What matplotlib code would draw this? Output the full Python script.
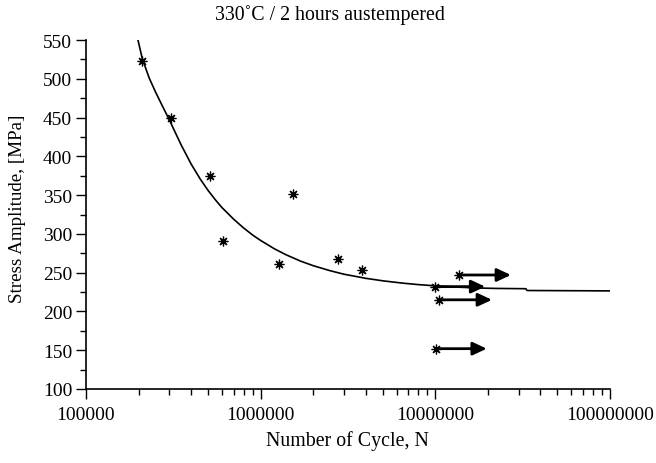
import matplotlib
matplotlib.use('Agg')
import matplotlib.pyplot as plt
from matplotlib.ticker import FixedLocator, MultipleLocator, FuncFormatter, NullFormatter

# ---- data ----
cycles = [2.1e5, 3.05e5, 5.12e5, 6.05e5, 1.28e6, 1.53e6, 2.77e6, 3.78e6,
          1.0e7, 1.374e7, 1.055e7, 1.005e7]
stress = [523, 449, 374, 291, 261, 351, 268, 253, 232, 247, 215, 152]

runout_cycles = [1.0e7, 1.374e7, 1.055e7, 1.005e7]
runout_stress = [232, 247, 215, 152]
runout_end = [1.93e7, 2.71e7, 2.11e7, 1.97e7]

# fitted S-N curve
curve_cycles = [1.97e5, 2.1e5, 2.3e5, 2.5e5, 2.75e5, 3.0e5, 3.5e5, 4.0e5,
                4.5e5, 5.0e5, 5.5e5, 6.0e5, 7.0e5, 8.0e5, 9.0e5, 1.0e6,
                1.2e6, 1.4e6, 1.7e6, 2.0e6, 2.5e6, 3.0e6, 4.0e6, 5.0e6,
                6.5e6, 8.0e6, 1.0e7, 1.3e7, 1.7e7, 2.2e7, 3.3e7, 3.35e7, 1.0e8]
curve_stress = [553, 526, 501, 483, 464, 447, 415, 390,
                371, 356, 344, 334, 319, 307.5, 298.5, 291.5,
                280.7, 273, 264.7, 259, 252.5, 248, 242.7, 239.5,
                236.5, 234.6, 233, 231.5, 230.3, 229.7, 229.3, 227, 226.5]

x_major = [1e5, 1e6, 1e7, 1e8]
y_major = [100, 150, 200, 250, 300, 350, 400, 450, 500, 550]

title = "330˚C / 2 hours austempered"
xlabel = "Number of Cycle, N"
ylabel = "Stress Amplitude, [MPa]"

plt.rcParams['font.family'] = ['Liberation Serif', 'DejaVu Serif']

W, H = 656, 464
fig = plt.figure(figsize=(W / 100, H / 100), dpi=100)
L, R, T, B = 86, 610, 41, 390
ax = fig.add_axes([L / W, 1 - B / H, (R - L) / W, (B - T) / H])

ax.set_xscale('log')
ax.set_xlim(1e5, 1e8)
ax.set_ylim(100, 550)

ax.plot(curve_cycles, curve_stress, color='black', lw=1.2, zorder=2,
        solid_joinstyle='round')
ax.plot(cycles, stress, linestyle='none', marker=(8, 2, 0), markersize=7,
        markeredgewidth=0.9, color='black', zorder=3)

for xs, ys, xe in zip(runout_cycles, runout_stress, runout_end):
    ax.annotate('', xy=(xe, ys), xytext=(xs * 1.05, ys),
                arrowprops=dict(arrowstyle='-|>,head_length=0.6,head_width=0.28',
                                mutation_scale=14, lw=2.0, color='black',
                                shrinkA=0, shrinkB=0), zorder=4)

for s in ['top', 'right']:
    ax.spines[s].set_visible(False)
for s in ['left', 'bottom']:
    ax.spines[s].set_linewidth(1.2)

ax.xaxis.set_major_locator(FixedLocator(x_major))
ax.xaxis.set_major_formatter(FuncFormatter(lambda v, p: f"{int(round(v))}"))
minors = [m * d for d in [1e5, 1e6, 1e7] for m in range(2, 10)]
ax.xaxis.set_minor_locator(FixedLocator(minors))
ax.xaxis.set_minor_formatter(NullFormatter())
ax.yaxis.set_major_locator(FixedLocator(y_major))
ax.yaxis.set_minor_locator(MultipleLocator(25))

ax.tick_params(which='major', direction='out', length=7, width=1.0,
               labelsize=14, pad=3, color='black')
ax.tick_params(which='minor', direction='out', length=4.5, width=1.0, color='black')
ax.tick_params(axis='x', which='major', pad=5)

fig.text(330 / W, 1 - 15 / H, title, ha='center', va='center', fontsize=14.3)
fig.text(347 / W, 1 - 441 / H, xlabel, ha='center', va='center', fontsize=14.3)
fig.text(18 / W, 1 - 209 / H, ylabel, ha='center', va='center', rotation=90, fontsize=13.7)

fig.savefig('out.png', dpi=100)
